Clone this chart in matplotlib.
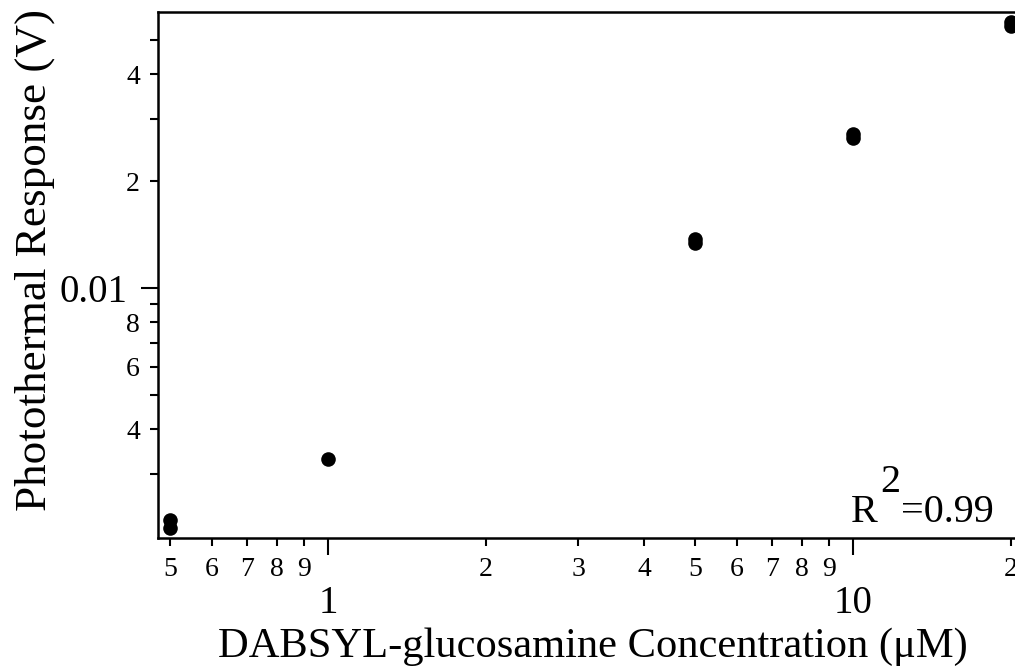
import matplotlib
matplotlib.use("Agg")
import matplotlib.pyplot as plt
from matplotlib.ticker import FixedLocator, FixedFormatter

# concentration (uM) and photothermal response (V)
conc = [0.5, 0.5, 1, 5, 5, 10, 10, 20, 20]
response = [0.00222, 0.00211, 0.00330, 0.0137, 0.0134, 0.0272, 0.0265, 0.0561, 0.0547]

x_major = [1, 10]
x_major_labels = ["1", "10"]
x_minor = [0.5, 0.6, 0.7, 0.8, 0.9, 2, 3, 4, 5, 6, 7, 8, 9, 20]
x_minor_labels = ["5", "6", "7", "8", "9", "2", "3", "4", "5", "6", "7", "8", "9", "2"]

y_major = [0.01]
y_major_labels = ["0.01"]
y_minor = [0.003, 0.004, 0.005, 0.006, 0.007, 0.008, 0.009, 0.02, 0.03, 0.04, 0.05]
y_minor_labels = ["", "4", "", "6", "", "8", "", "2", "", "4", ""]

r2_text = "0.99"

plt.rcParams["font.family"] = ["Liberation Serif", "DejaVu Serif"]

W, H = 1015, 671
fig = plt.figure(figsize=(W / 100, H / 100), dpi=100)
left, right, top, bottom = 158, 1020, 11.7, 537.5
ax = fig.add_axes([left / W, (H - bottom) / H, (right - left) / W, (bottom - top) / H])

ax.plot(conc, response, "o", color="black", ms=10.5, mew=0, linestyle="none")

ax.set_xscale("log")
ax.set_yscale("log")
ax.set_xlim(0.4745, 20.8)
ax.set_ylim(0.001982, 0.0600)

ax.xaxis.set_major_locator(FixedLocator(x_major))
ax.xaxis.set_major_formatter(FixedFormatter(x_major_labels))
ax.xaxis.set_minor_locator(FixedLocator(x_minor))
ax.xaxis.set_minor_formatter(FixedFormatter(x_minor_labels))
ax.yaxis.set_major_locator(FixedLocator(y_major))
ax.yaxis.set_major_formatter(FixedFormatter(y_major_labels))
ax.yaxis.set_minor_locator(FixedLocator(y_minor))
ax.yaxis.set_minor_formatter(FixedFormatter(y_minor_labels))

for s in ax.spines.values():
    s.set_linewidth(1.8)

ax.tick_params(which="both", direction="out", width=1.5, color="black")
ax.tick_params(axis="x", which="major", length=12, labelsize=28, pad=22)
ax.tick_params(axis="x", which="minor", length=6, labelsize=20, pad=8)
ax.tick_params(axis="y", which="major", length=12, labelsize=28, pad=10)
ax.tick_params(axis="y", which="minor", length=6, labelsize=20, pad=7)

ax.set_xlabel("DABSYL-glucosamine Concentration (\u03bcM)", fontsize=30.6)
ax.set_ylabel("Photothermal Response (V)", fontsize=32.5)
ax.xaxis.set_label_coords(0.5046, -0.172)
ax.yaxis.set_label_coords(-0.12, 0.528)

# R^2 annotation, superscript drawn at full size like the original
fig.text(851 / W, (H - 522) / H, "R", fontsize=29, va="baseline", ha="left")
fig.text(880 / W, (H - 492) / H, "2", fontsize=29, va="baseline", ha="left")
fig.text(901 / W, (H - 522) / H, "=" + r2_text, fontsize=29, va="baseline", ha="left")

fig.savefig("out.png", dpi=100)
plt.close(fig)
